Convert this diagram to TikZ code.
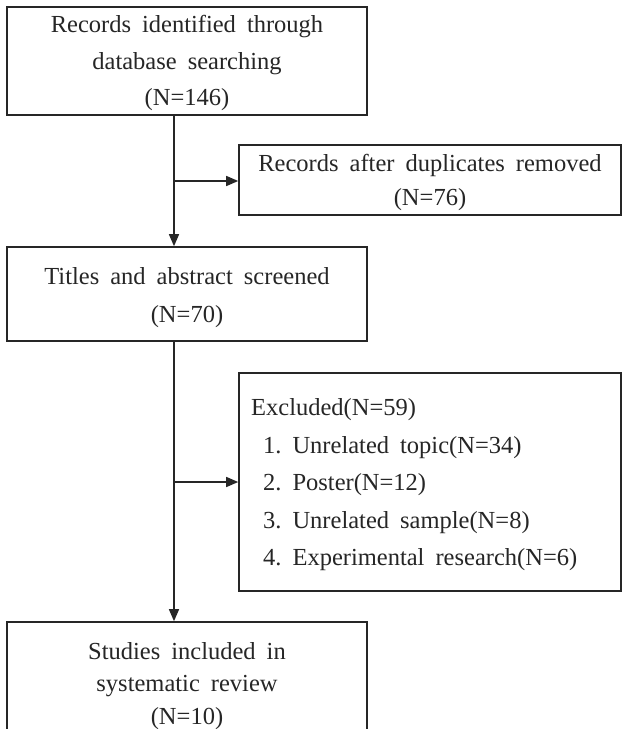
\documentclass[tikz,border=0pt]{standalone}
\usepackage{fontspec}
\setmainfont{Liberation Serif}
\usetikzlibrary{arrows.meta}
\newcommand{\widesp}{\spaceskip=0.45em plus 0.1em\relax}
\begin{document}
\begin{tikzpicture}[x=1pt,y=-1pt,
  box/.style={draw=black!85, line width=1.6pt, inner sep=0pt},
  txt/.style={inner sep=0pt, align=center, text=black!85,
    font=\fontsize{24.5}{36.5}\selectfont, execute at begin node=\widesp},
  arr/.style={draw=black!85, line width=1.4pt, -{Triangle[length=12pt,width=10pt]}}]
\clip (0,0) rectangle (622,729);
\fill[white] (0,0) rectangle (622,729);
% boxes
\node[box, minimum width=360pt, minimum height=108pt] (b1) at (187,61) {};
\node[box, minimum width=382pt, minimum height=70pt] (b2) at (430,180) {};
\node[box, minimum width=360pt, minimum height=94pt] (b3) at (187,294) {};
\node[box, minimum width=382pt, minimum height=218pt] (b4) at (430,482) {};
\node[box, minimum width=360pt, minimum height=131pt] (b5) at (187,687.5) {};
% texts
\node[txt] (t1) at (187,63) {Records identified through\\database searching\\(N=146)};
\node[txt] (t2) at (430,182) {Records after duplicates removed\\[-2.5pt](N=76)};
\node[txt] (t3) at (187,298) {Titles and abstract screened\\[1.5pt](N=70)};
\node[txt, align=left, anchor=west, font=\fontsize{24.5}{37.5}\selectfont] (t4) at (251,485)
  {Excluded(N=59)\\
   \hspace*{12pt}1.\hspace{11pt}Unrelated topic(N=34)\\
   \hspace*{12pt}2.\hspace{11pt}Poster(N=12)\\
   \hspace*{12pt}3.\hspace{11pt}Unrelated sample(N=8)\\
   \hspace*{12pt}4.\hspace{11pt}Experimental research(N=6)};
\node[txt, font=\fontsize{24.5}{32.5}\selectfont] (t5) at (187,686)
  {Studies included in\\systematic review\\(N=10)};
% connectors
\coordinate (vx) at (174,0);
\coordinate (j1) at (174,181);
\coordinate (j2) at (174,482);
\draw[arr] (b1.south -| vx) -- (b3.north -| vx);
\draw[arr] (j1) -- (j1 -| b2.west);
\draw[arr] (b3.south -| vx) -- (b5.north -| vx);
\draw[arr] (j2) -- (j2 -| b4.west);
\end{tikzpicture}
\end{document}
